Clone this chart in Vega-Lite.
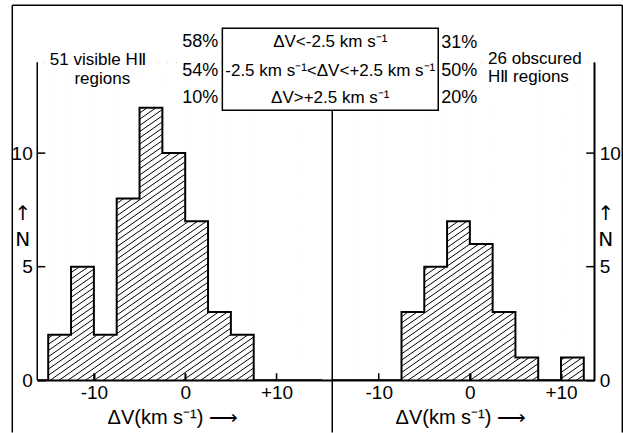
{
  "$schema": "https://vega.github.io/schema/vega-lite/v6.json",
  "autosize": {"type": "pad"},
  "padding": {"left": 10.25, "top": 4.25, "right": 1.25, "bottom": 0},
  "background": "white",
  "spacing": 0,
  "bounds": "flush",
  "config": {
    "font": "Liberation Sans",
    "view": {"stroke": null},
    "axis": {
      "labelColor": "black", "labelFontSize": 19, "labelOverlap": false, "labelFlush": false,
      "titleColor": "black", "titleFontSize": 20, "titleFontWeight": "normal",
      "grid": false
    },
    "text": {"color": "black"},
    "rule": {"stroke": "black", "strokeWidth": 1.5}
  },
  "datasets": {
    "one": [{}],
    "visible": [
      {"lo": -17.5, "hi": -15, "n": 0},
      {"lo": -15, "hi": -12.5, "n": 2},
      {"lo": -12.5, "hi": -10, "n": 5},
      {"lo": -10, "hi": -7.5, "n": 2},
      {"lo": -7.5, "hi": -5, "n": 8},
      {"lo": -5, "hi": -2.5, "n": 12},
      {"lo": -2.5, "hi": 0, "n": 10},
      {"lo": 0, "hi": 2.5, "n": 7},
      {"lo": 2.5, "hi": 5, "n": 3},
      {"lo": 5, "hi": 7.5, "n": 2},
      {"lo": 7.5, "hi": 10, "n": 0},
      {"lo": 10, "hi": 12.5, "n": 0},
      {"lo": 12.5, "hi": 15, "n": 0},
      {"lo": 15, "hi": 17.5, "n": 0}
    ],
    "obscured": [
      {"lo": -17.5, "hi": -15, "n": 0},
      {"lo": -15, "hi": -12.5, "n": 0},
      {"lo": -12.5, "hi": -10, "n": 0},
      {"lo": -10, "hi": -7.5, "n": 0},
      {"lo": -7.5, "hi": -5, "n": 3},
      {"lo": -5, "hi": -2.5, "n": 5},
      {"lo": -2.5, "hi": 0, "n": 7},
      {"lo": 0, "hi": 2.5, "n": 6},
      {"lo": 2.5, "hi": 5, "n": 3},
      {"lo": 5, "hi": 7.5, "n": 1},
      {"lo": 7.5, "hi": 10, "n": 0},
      {"lo": 10, "hi": 12.5, "n": 1},
      {"lo": 12.5, "hi": 15, "n": 0}
    ]
  },
  "hconcat": [
    {
      "width": 295,
      "height": 318,
      "layer": [
        {
          "data": {"name": "one"},
          "mark": {"type": "point", "shape": "M-28 -28l56 -39.2m-56 40.2l56 -39.2m-56 40.2l56 -39.2m-56 40.2l56 -39.2m-56 40.2l56 -39.2m-56 40.2l56 -39.2m-56 40.2l56 -39.2m-56 40.2l56 -39.2m-56 40.2l56 -39.2m-56 40.2l56 -39.2m-56 40.2l56 -39.2m-56 40.2l56 -39.2m-56 40.2l56 -39.2m-56 40.2l56 -39.2m-56 40.2l56 -39.2m-56 40.2l56 -39.2m-56 40.2l56 -39.2m-56 40.2l56 -39.2m-56 40.2l56 -39.2m-56 40.2l56 -39.2m-56 40.2l56 -39.2m-56 40.2l56 -39.2m-56 40.2l56 -39.2m-56 40.2l56 -39.2m-56 40.2l56 -39.2m-56 40.2l56 -39.2m-56 40.2l56 -39.2m-56 40.2l56 -39.2m-56 40.2l56 -39.2m-56 40.2l56 -39.2m-56 40.2l56 -39.2m-56 40.2l56 -39.2m-56 40.2l56 -39.2m-56 40.2l56 -39.2m-56 40.2l56 -39.2m-56 40.2l56 -39.2m-56 40.2l56 -39.2m-56 40.2l56 -39.2m-56 40.2l56 -39.2m-56 40.2l56 -39.2m-56 40.2l56 -39.2m-56 40.2l56 -39.2m-56 40.2l56 -39.2m-56 40.2l56 -39.2m-56 40.2l56 -39.2m-56 40.2l56 -39.2m-56 40.2l56 -39.2m-56 40.2l56 -39.2m-56 40.2l56 -39.2m-56 40.2l56 -39.2m-56 40.2l56 -39.2m-56 40.2l56 -39.2m-56 40.2l56 -39.2m-56 40.2l56 -39.2m-56 40.2l56 -39.2m-56 40.2l56 -39.2m-56 40.2l56 -39.2m-56 40.2l56 -39.2m-56 40.2l56 -39.2m-56 40.2l56 -39.2m-56 40.2l56 -39.2m-56 40.2l56 -39.2m-56 40.2l56 -39.2m-56 40.2l56 -39.2m-56 40.2l56 -39.2m-56 40.2l56 -39.2m-56 40.2l56 -39.2m-56 40.2l56 -39.2m-56 40.2l56 -39.2m-56 40.2l56 -39.2m-56 40.2l56 -39.2m-56 40.2l56 -39.2m-56 40.2l56 -39.2m-56 40.2l56 -39.2m-56 40.2l56 -39.2m-56 40.2l56 -39.2m-56 40.2l56 -39.2m-56 40.2l56 -39.2m-56 40.2l56 -39.2m-56 40.2l56 -39.2m-56 40.2l56 -39.2m-56 40.2l56 -39.2m-56 40.2l56 -39.2m-56 40.2l56 -39.2m-56 40.2l56 -39.2m-56 40.2l56 -39.2m-56 40.2l56 -39.2m-56 40.2l56 -39.2m-56 40.2l56 -39.2m-56 40.2l56 -39.2m-56 40.2l56 -39.2m-56 40.2l56 -39.2m-56 40.2l56 -39.2m-56 40.2l56 -39.2m-56 40.2l56 -39.2m-56 40.2l56 -39.2m-56 40.2l56 -39.2m-56 40.2l56 -39.2m-56 40.2", "size": 153.76, "filled": false, "stroke": "black", "strokeWidth": 1, "opacity": 1, "clip": true},
          "encoding": {
            "x": {"datum": 0, "type": "quantitative", "scale": {"domain": [-16.2, 16.1], "nice": false, "zero": false}},
            "y": {"datum": 7, "type": "quantitative", "scale": {"domain": [0, 14], "nice": false}}
          }
        },
        {
          "data": {"name": "visible"},
          "mark": {"type": "bar", "fill": "white", "stroke": "white", "strokeWidth": 1, "clip": true},
          "encoding": {
            "x": {"field": "lo", "type": "quantitative",
              "scale": {"domain": [-16.2, 16.1], "nice": false, "zero": false},
              "axis": {"orient": "bottom", "values": [-10, 0, 10], "tickSize": -7, "labelPadding": 10,
                "domainColor": "black", "domainWidth": 1.5, "tickColor": "black", "tickWidth": 1.5,
                "labelExpr": "datum.value > 0 ? '+' + datum.value : '' + datum.value",
                "title": "ΔV(km s⁻¹) ⟶", "titleX": 135, "titlePadding": 5}},
            "x2": {"field": "hi"},
            "y": {"field": "n", "type": "quantitative",
              "scale": {"domain": [0, 14], "nice": false},
              "axis": {"orient": "left", "values": [0, 5, 10], "tickSize": -8, "labelPadding": 13,
                "domainColor": "black", "domainWidth": 1.5, "tickColor": "black", "tickWidth": 1.5,
                "title": ["↑", "N"], "titleFont": "DejaVu Sans", "titleAngle": 0, "titleX": -15, "titleY": 151, "titleAlign": "center", "titleBaseline": "middle", "titleLineHeight": 26}},
            "y2": {"datum": 14}
          }
        },
        {
          "data": {"name": "visible"},
          "mark": {"type": "line", "interpolate": "step-after", "stroke": "black", "strokeWidth": 2, "clip": true},
          "encoding": {
            "x": {"field": "lo", "type": "quantitative"},
            "y": {"field": "n", "type": "quantitative"}
          }
        },
        {"data": {"name": "one"}, "mark": {"type": "rule"},
         "encoding": {"x": {"datum": -16.2}, "y": {"datum": 0}, "y2": {"datum": 14}}},
        {"data": {"name": "one"}, "mark": {"type": "rule"},
         "encoding": {"x": {"datum": -16.2}, "x2": {"datum": 16.1}, "y": {"datum": 0}}},
        {"data": {"name": "one"}, "mark": {"type": "rule"},
         "encoding": {"x": {"datum": -16.2}, "x2": {"datum": -15.32}, "y": {"datum": 5}}},
        {"data": {"name": "one"}, "mark": {"type": "rule"},
         "encoding": {"x": {"datum": -16.2}, "x2": {"datum": -15.32}, "y": {"datum": 10}}},
        {"data": {"name": "one"}, "mark": {"type": "rule"},
         "encoding": {"x": {"datum": -10}, "y": {"datum": 0}, "y2": {"datum": 0.31}}},
        {"data": {"name": "one"}, "mark": {"type": "rule"},
         "encoding": {"x": {"datum": 0}, "y": {"datum": 0}, "y2": {"datum": 0.31}}},
        {"data": {"name": "one"}, "mark": {"type": "rule"},
         "encoding": {"x": {"datum": 10}, "y": {"datum": 0}, "y2": {"datum": 0.31}}}
      ]
    },
    {
      "width": 262,
      "height": 318,
      "layer": [
        {
          "data": {"name": "one"},
          "mark": {"type": "point", "shape": "M-28 -28l56 -39.2m-56 40.2l56 -39.2m-56 40.2l56 -39.2m-56 40.2l56 -39.2m-56 40.2l56 -39.2m-56 40.2l56 -39.2m-56 40.2l56 -39.2m-56 40.2l56 -39.2m-56 40.2l56 -39.2m-56 40.2l56 -39.2m-56 40.2l56 -39.2m-56 40.2l56 -39.2m-56 40.2l56 -39.2m-56 40.2l56 -39.2m-56 40.2l56 -39.2m-56 40.2l56 -39.2m-56 40.2l56 -39.2m-56 40.2l56 -39.2m-56 40.2l56 -39.2m-56 40.2l56 -39.2m-56 40.2l56 -39.2m-56 40.2l56 -39.2m-56 40.2l56 -39.2m-56 40.2l56 -39.2m-56 40.2l56 -39.2m-56 40.2l56 -39.2m-56 40.2l56 -39.2m-56 40.2l56 -39.2m-56 40.2l56 -39.2m-56 40.2l56 -39.2m-56 40.2l56 -39.2m-56 40.2l56 -39.2m-56 40.2l56 -39.2m-56 40.2l56 -39.2m-56 40.2l56 -39.2m-56 40.2l56 -39.2m-56 40.2l56 -39.2m-56 40.2l56 -39.2m-56 40.2l56 -39.2m-56 40.2l56 -39.2m-56 40.2l56 -39.2m-56 40.2l56 -39.2m-56 40.2l56 -39.2m-56 40.2l56 -39.2m-56 40.2l56 -39.2m-56 40.2l56 -39.2m-56 40.2l56 -39.2m-56 40.2l56 -39.2m-56 40.2l56 -39.2m-56 40.2l56 -39.2m-56 40.2l56 -39.2m-56 40.2l56 -39.2m-56 40.2l56 -39.2m-56 40.2l56 -39.2m-56 40.2l56 -39.2m-56 40.2l56 -39.2m-56 40.2l56 -39.2m-56 40.2l56 -39.2m-56 40.2l56 -39.2m-56 40.2l56 -39.2m-56 40.2l56 -39.2m-56 40.2l56 -39.2m-56 40.2l56 -39.2m-56 40.2l56 -39.2m-56 40.2l56 -39.2m-56 40.2l56 -39.2m-56 40.2l56 -39.2m-56 40.2l56 -39.2m-56 40.2l56 -39.2m-56 40.2l56 -39.2m-56 40.2l56 -39.2m-56 40.2l56 -39.2m-56 40.2l56 -39.2m-56 40.2l56 -39.2m-56 40.2l56 -39.2m-56 40.2l56 -39.2m-56 40.2l56 -39.2m-56 40.2l56 -39.2m-56 40.2l56 -39.2m-56 40.2l56 -39.2m-56 40.2l56 -39.2m-56 40.2l56 -39.2m-56 40.2l56 -39.2m-56 40.2l56 -39.2m-56 40.2l56 -39.2m-56 40.2l56 -39.2m-56 40.2l56 -39.2m-56 40.2l56 -39.2m-56 40.2l56 -39.2m-56 40.2l56 -39.2m-56 40.2l56 -39.2m-56 40.2l56 -39.2m-56 40.2l56 -39.2m-56 40.2", "size": 153.76, "filled": false, "stroke": "black", "strokeWidth": 1, "opacity": 1, "clip": true},
          "encoding": {
            "x": {"datum": -0.7, "type": "quantitative", "scale": {"domain": [-15.1, 13.65], "nice": false, "zero": false}},
            "y": {"datum": 7, "type": "quantitative", "scale": {"domain": [0, 14], "nice": false}}
          }
        },
        {
          "data": {"name": "obscured"},
          "mark": {"type": "bar", "fill": "white", "stroke": "white", "strokeWidth": 1, "clip": true},
          "encoding": {
            "x": {"field": "lo", "type": "quantitative",
              "scale": {"domain": [-15.1, 13.65], "nice": false, "zero": false},
              "axis": {"orient": "bottom", "values": [-10, 0, 10], "tickSize": -7, "labelPadding": 10,
                "domainColor": "black", "domainWidth": 1.5, "tickColor": "black", "tickWidth": 1.5,
                "labelExpr": "datum.value > 0 ? '+' + datum.value : '' + datum.value",
                "title": "ΔV(km s⁻¹) ⟶", "titleX": 128, "titlePadding": 5}},
            "x2": {"field": "hi"},
            "y": {"field": "n", "type": "quantitative",
              "scale": {"domain": [0, 14], "nice": false},
              "axis": {"orient": "right", "values": [0, 5, 10], "tickSize": -8, "labelPadding": 13,
                "domainColor": "black", "domainWidth": 1.5, "tickColor": "black", "tickWidth": 1.5,
                "title": ["↑", "N"], "titleFont": "DejaVu Sans", "titleAngle": 0, "titleX": 11, "titleY": 151, "titleAlign": "center", "titleBaseline": "middle", "titleLineHeight": 26}},
            "y2": {"datum": 14}
          }
        },
        {
          "data": {"name": "obscured"},
          "mark": {"type": "line", "interpolate": "step-after", "stroke": "black", "strokeWidth": 2, "clip": true},
          "encoding": {
            "x": {"field": "lo", "type": "quantitative"},
            "y": {"field": "n", "type": "quantitative"}
          }
        },
        {"data": {"name": "one"}, "mark": {"type": "rule"},
         "encoding": {"x": {"datum": 13.65}, "y": {"datum": 0}, "y2": {"datum": 14}}},
        {"data": {"name": "one"}, "mark": {"type": "rule"},
         "encoding": {"x": {"datum": -15.1}, "x2": {"datum": 13.65}, "y": {"datum": 0}}},
        {"data": {"name": "one"}, "mark": {"type": "rule"},
         "encoding": {"x": {"datum": 12.77}, "x2": {"datum": 13.65}, "y": {"datum": 5}}},
        {"data": {"name": "one"}, "mark": {"type": "rule"},
         "encoding": {"x": {"datum": 12.77}, "x2": {"datum": 13.65}, "y": {"datum": 10}}},
        {"data": {"name": "one"}, "mark": {"type": "rule"},
         "encoding": {"x": {"datum": -10}, "y": {"datum": 0}, "y2": {"datum": 0.31}}},
        {"data": {"name": "one"}, "mark": {"type": "rule"},
         "encoding": {"x": {"datum": 0}, "y": {"datum": 0}, "y2": {"datum": 0.31}}},
        {"data": {"name": "one"}, "mark": {"type": "rule"},
         "encoding": {"x": {"datum": 10}, "y": {"datum": 0}, "y2": {"datum": 0.31}}},
        {"data": {"name": "one"}, "mark": {"type": "rule"},
         "encoding": {"x": {"datum": -50.21}, "y": {"datum": 16.51}, "y2": {"datum": -2.3}}},
        {"data": {"name": "one"}, "mark": {"type": "rule"},
         "encoding": {"x": {"datum": 16.73}, "y": {"datum": 16.51}, "y2": {"datum": -2.3}}},
        {"data": {"name": "one"}, "mark": {"type": "rule"},
         "encoding": {"x": {"datum": -50.21}, "x2": {"datum": 16.73}, "y": {"datum": 16.51}}},
        {"data": {"name": "one"}, "mark": {"type": "rule"},
         "encoding": {"x": {"datum": -15.1}, "y": {"datum": 11.887}, "y2": {"datum": -2.3}}},
        {
          "data": {"name": "one"},
          "mark": {"type": "rect", "fill": "white", "stroke": "black", "strokeWidth": 1.5},
          "encoding": {"x": {"datum": -27.16}, "x2": {"datum": -3.47}, "y": {"datum": 15.5}, "y2": {"datum": 11.887}}
        },
        {"data": {"name": "one"}, "mark": {"type": "text", "text": "58%", "align": "right", "baseline": "middle", "fontSize": 18},
         "encoding": {"x": {"datum": -27.61}, "y": {"datum": 14.88}}},
        {"data": {"name": "one"}, "mark": {"type": "text", "text": "54%", "align": "right", "baseline": "middle", "fontSize": 18},
         "encoding": {"x": {"datum": -27.61}, "y": {"datum": 13.6}}},
        {"data": {"name": "one"}, "mark": {"type": "text", "text": "10%", "align": "right", "baseline": "middle", "fontSize": 18},
         "encoding": {"x": {"datum": -27.61}, "y": {"datum": 12.415}}},
        {"data": {"name": "one"}, "mark": {"type": "text", "text": "31%", "align": "left", "baseline": "middle", "fontSize": 18},
         "encoding": {"x": {"datum": -3.14}, "y": {"datum": 14.85}}},
        {"data": {"name": "one"}, "mark": {"type": "text", "text": "50%", "align": "left", "baseline": "middle", "fontSize": 18},
         "encoding": {"x": {"datum": -3.14}, "y": {"datum": 13.6}}},
        {"data": {"name": "one"}, "mark": {"type": "text", "text": "20%", "align": "left", "baseline": "middle", "fontSize": 18},
         "encoding": {"x": {"datum": -3.14}, "y": {"datum": 12.415}}},
        {"data": {"name": "one"}, "mark": {"type": "text", "text": "ΔV<-2.5 km s⁻¹", "align": "center", "baseline": "middle", "fontSize": 17},
         "encoding": {"x": {"datum": -15.32}, "y": {"datum": 14.88}}},
        {"data": {"name": "one"}, "mark": {"type": "text", "text": "-2.5 km s⁻¹<ΔV<+2.5 km s⁻¹", "align": "center", "baseline": "middle", "fontSize": 17},
         "encoding": {"x": {"datum": -15.32}, "y": {"datum": 13.6}}},
        {"data": {"name": "one"}, "mark": {"type": "text", "text": "ΔV>+2.5 km s⁻¹", "align": "center", "baseline": "middle", "fontSize": 17},
         "encoding": {"x": {"datum": -15.32}, "y": {"datum": 12.415}}},
        {"data": {"name": "one"}, "mark": {"type": "text", "text": "51 visible HⅡ", "align": "center", "baseline": "middle", "fontSize": 17},
         "encoding": {"x": {"datum": -40.83}, "y": {"datum": 14.08}}},
        {"data": {"name": "one"}, "mark": {"type": "text", "text": "regions", "align": "center", "baseline": "middle", "fontSize": 17},
         "encoding": {"x": {"datum": -40.33}, "y": {"datum": 13.26}}},
        {"data": {"name": "one"}, "mark": {"type": "text", "text": "26 obscured", "align": "left", "baseline": "middle", "fontSize": 17},
         "encoding": {"x": {"datum": 2.0}, "y": {"datum": 14.13}}},
        {"data": {"name": "one"}, "mark": {"type": "text", "text": "HⅡ regions", "align": "left", "baseline": "middle", "fontSize": 17},
         "encoding": {"x": {"datum": 2.0}, "y": {"datum": 13.34}}}
      ]
    }
  ]
}
